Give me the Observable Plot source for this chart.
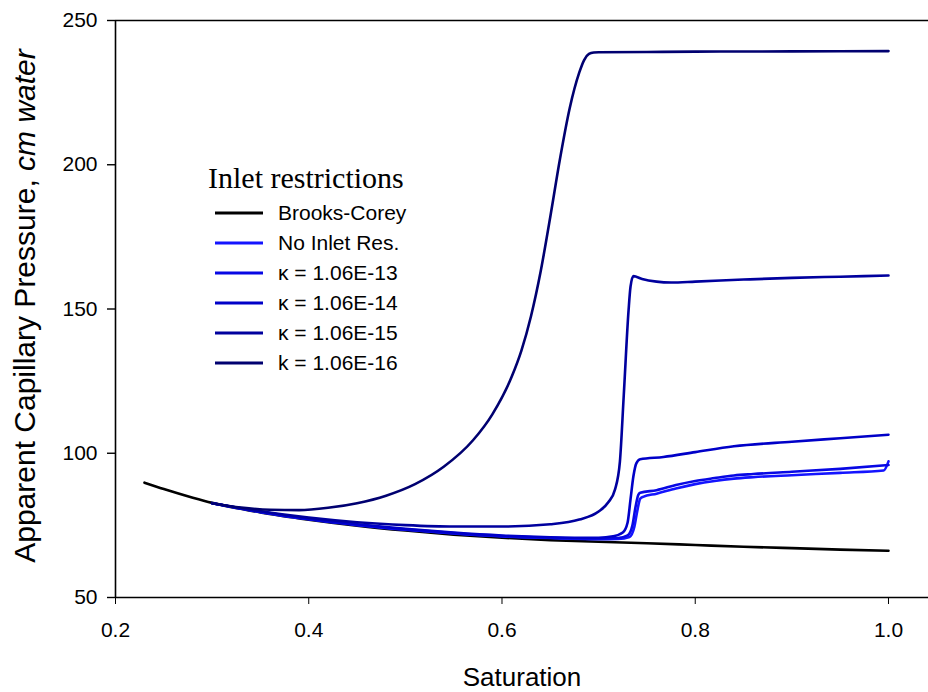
<!DOCTYPE html>
<html>
<head>
<meta charset="utf-8">
<script src="https://cdn.jsdelivr.net/npm/d3@7"></script>
<script src="https://cdn.jsdelivr.net/npm/@observablehq/plot@0.6"></script>
<style>
  body { margin: 0; background: #fff; }
  #wrap { position: relative; width: 928px; height: 692px; font-family: "Liberation Sans", Arial, sans-serif; }
  #legend { position: absolute; left: 208px; top: 160px; }
  #legend .title { font-family: "Liberation Serif", "Times New Roman", serif; font-size: 30px; line-height: 36px; white-space: nowrap; }
  #legend .row { display: flex; align-items: center; height: 30px; margin-left: 7px; font-size: 21px; white-space: nowrap; }
  #legend .rows { margin-top: 2px; }
  #legend svg { margin-right: 15px; }
</style>
</head>
<body>
<div id="wrap"><div id="chart"></div><div id="legend"></div></div>
<script>
const xTicks = [0.2, 0.4, 0.6, 0.8, 1.0];
const yTicks = [50, 100, 150, 200, 250];
const seriesNames = ["Brooks-Corey", "No Inlet Res.", "κ = 1.06E-13", "κ = 1.06E-14", "κ = 1.06E-15", "k = 1.06E-16"];
const seriesColors = ["#000000", "#1414ff", "#0808e4", "#0000c8", "#00009e", "#000070"];

const bcX = [0.23,0.25,0.28,0.30,0.35,0.40,0.45,0.50,0.55,0.60,0.65,0.70,0.75,0.80,0.85,0.90,0.95,1.00];
const bcY = [89.8,87.6,84.6,82.8,79.5,77.0,74.9,73.2,71.8,70.7,69.9,69.3,68.8,68.2,67.6,67.1,66.6,66.2];

const niX = [0.30,0.35,0.40,0.45,0.50,0.55,0.60,0.65,0.70,0.72,0.732,0.737,0.740,0.743,0.746,0.76,0.78,0.80,0.82,0.84,0.86,0.90,0.95,0.995,1.00];
const niY = [82.7,79.6,77.1,75.1,73.5,72.2,71.2,70.6,70.2,70.3,71.0,74.5,80.0,84.2,84.9,86.0,87.8,89.3,90.4,91.2,91.7,92.4,93.2,94.0,97.2];

const k13X = [0.30,0.35,0.40,0.45,0.50,0.55,0.60,0.65,0.70,0.72,0.73,0.735,0.738,0.741,0.743,0.76,0.78,0.80,0.82,0.84,0.86,0.90,0.95,1.00];
const k13Y = [82.7,79.7,77.2,75.2,73.6,72.3,71.3,70.7,70.4,70.6,71.5,75.0,81.0,85.5,86.3,87.2,89.0,90.4,91.4,92.3,92.8,93.6,94.6,95.9];

const k14X = [0.30,0.35,0.40,0.45,0.50,0.55,0.60,0.65,0.70,0.715,0.725,0.730,0.733,0.736,0.739,0.743,0.767,0.80,0.84,0.90,0.95,1.00];
const k14Y = [82.7,79.8,77.3,75.4,73.8,72.5,71.5,70.9,70.7,71.2,72.5,76.0,84.0,92.0,96.5,97.9,98.7,100.4,102.4,104.0,105.2,106.4];

const k15X = [0.30,0.35,0.40,0.45,0.50,0.55,0.60,0.65,0.68,0.70,0.71,0.717,0.722,0.726,0.731,0.733,0.736,0.745,0.76,0.775,0.80,0.85,0.90,0.95,1.00];
const k15Y = [82.7,79.9,77.7,76.1,75.1,74.6,74.6,75.4,77.0,79.8,83.0,87.5,97.0,120.0,149.6,157.7,161.4,160.4,159.5,159.2,159.5,160.2,160.8,161.2,161.6];

const k16X = [0.30,0.33,0.36,0.39,0.42,0.45,0.48,0.51,0.54,0.57,0.59,0.61,0.62,0.63,0.64,0.65,0.66,0.67,0.68,0.685,0.69,0.695,0.70,0.75,0.80,0.90,1.00];
const k16Y = [82.7,81.2,80.4,80.3,81.1,82.7,85.3,89.3,95.4,104.5,113.5,126.5,135.5,147.5,163.0,182.0,202.0,219.5,232.0,236.3,238.4,238.9,239.0,239.1,239.2,239.3,239.4];

const seriesX = [bcX, niX, k13X, k14X, k15X, k16X];
const seriesY = [bcY, niY, k13Y, k14Y, k15Y, k16Y];

const rows = [];
seriesNames.forEach((name, i) => {
  seriesX[i].forEach((x, j) => rows.push({series: name, x, y: seriesY[i][j]}));
});

const chart = Plot.plot({
  width: 928,
  height: 692,
  marginLeft: 115,
  marginRight: 0,
  marginTop: 20,
  marginBottom: 95,
  style: {fontFamily: "'Liberation Sans', Arial, sans-serif", fontSize: "21px", color: "#000", background: "#fff", overflow: "visible"},
  x: {domain: [0.2, 1.0414]},
  y: {domain: [50, 250]},
  color: {domain: seriesNames, range: seriesColors},
  marks: [
    Plot.ruleY([250], {stroke: "#000", strokeWidth: 1.6}),
    Plot.ruleY([50], {stroke: "#000", strokeWidth: 1.6}),
    Plot.ruleX([0.2], {stroke: "#000", strokeWidth: 1.6}),
    Plot.axisX({ticks: xTicks, tickFormat: d3.format(".1f"), tickSize: 7, tickPadding: 18, fontSize: 21, label: null, stroke: "#000"}),
    Plot.axisY({ticks: yTicks, tickSize: 8, tickPadding: 10, fontSize: 21, label: null, stroke: "#000", strokeWidth: 1.4}),
    Plot.line(rows, {x: "x", y: "y", z: "series", stroke: "series", strokeWidth: 2.6, curve: "monotone-x"})
  ]
});
document.getElementById("chart").appendChild(chart);

const svg = d3.select(chart);
svg.append("text")
  .attr("transform", "translate(24,306) rotate(-90)")
  .attr("text-anchor", "middle")
  .attr("dy", "0.35em")
  .attr("font-size", 30)
  .attr("fill", "#000")
  .call(t => {
    t.append("tspan").text("Apparent Capillary Pressure, ");
    t.append("tspan").attr("font-style", "italic").text("cm water");
  });
svg.append("text")
  .attr("x", 522).attr("y", 686)
  .attr("text-anchor", "middle")
  .attr("font-size", 26)
  .attr("fill", "#000")
  .text("Saturation");

const legend = d3.select("#legend");
legend.append("div").attr("class", "title").text("Inlet restrictions");
const lr = legend.append("div").attr("class", "rows");
seriesNames.forEach((name, i) => {
  const r = lr.append("div").attr("class", "row");
  const s = r.append("svg").attr("width", 48).attr("height", 6);
  s.append("line").attr("x1", 0).attr("x2", 48).attr("y1", 3).attr("y2", 3)
    .attr("stroke", seriesColors[i]).attr("stroke-width", 3);
  r.append("span").text(name);
});
</script>
</body>
</html>
